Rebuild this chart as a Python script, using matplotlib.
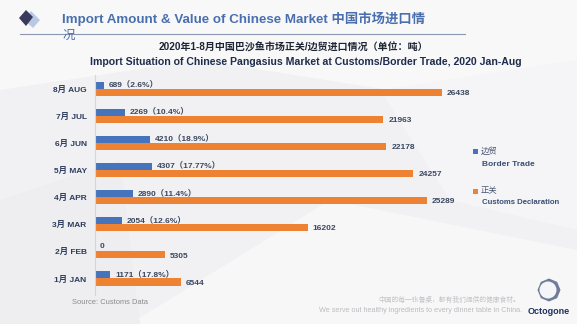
import matplotlib.pyplot as plt
from matplotlib.patches import Polygon, Rectangle, RegularPolygon, Circle

plt.rcParams['font.family'] = ['Liberation Sans', 'Noto Sans CJK SC', 'DejaVu Sans']

W, H = 577, 324

# monthly imports in tonnes, Aug first (top of chart)
months = ['8月 AUG', '7月 JUL', '6月 JUN', '5月 MAY', '4月 APR', '3月 MAR', '2月 FEB', '1月 JAN']
border_trade = [689, 2269, 4210, 4307, 2890, 2054, 0, 1171]
border_share = ['2.6%', '10.4%', '18.9%', '17.77%', '11.4%', '12.6%', None, '17.8%']
customs = [26438, 21963, 22178, 24257, 25289, 16202, 5305, 6544]

blue = '#4674BC'
orange = '#EE8233'
navy = '#2E3D5E'
label_col = '#3B4860'


def fx(x):
    return x / W


def fy(y):
    return 1 - y / H


fig = plt.figure(figsize=(W / 100, H / 100), dpi=100)
fig.patch.set_facecolor('#F1F1F3')

# soft background facets
bg = fig.add_axes([0, 0, 1, 1], zorder=-10)
bg.set_xlim(0, W)
bg.set_ylim(H, 0)
bg.axis('off')
bg.add_patch(Polygon([(0, 0), (577, 0), (577, 120), (200, 60), (0, 90)], closed=True,
                     facecolor='#F8F8F9', edgecolor='none'))
bg.add_patch(Polygon([(130, 324), (330, 200), (577, 250), (577, 324)], closed=True,
                     facecolor='#F7F7F8', edgecolor='none'))
bg.add_patch(Polygon([(0, 200), (120, 160), (140, 324), (0, 324)], closed=True,
                     facecolor='#EEEEF0', edgecolor='none'))
bg.add_patch(Polygon([(380, 90), (577, 60), (577, 230), (450, 200)], closed=True,
                     facecolor='#F5F5F7', edgecolor='none'))

# header icon
bg.add_patch(Polygon([(31, 11), (40, 20), (33, 28), (24, 20)], closed=True,
                     facecolor='#B9C8E4', edgecolor='none'))
bg.add_patch(Polygon([(26, 10), (33, 17), (26, 26), (19, 18)], closed=True,
                     facecolor='#3A3A5C', edgecolor='none'))
bg.plot([20, 465], [34, 34], color='#8A97B0', lw=0.8)

fig.text(fx(62), fy(19), 'Import Amount & Value of Chinese Market 中国市场进口情',
         fontsize=9.6, fontweight='bold', color='#4A6FAE', va='center', ha='left')
fig.text(fx(62), fy(36), '况', fontsize=9, color='#4A6FAE', va='center', ha='left')

fig.text(fx(293), fy(48), '2020年1-8月中国巴沙鱼市场正关/边贸进口情况（单位：吨）',
         fontsize=7.2, fontweight='bold', color='#1E2533', va='center', ha='center')
fig.text(fx(306), fy(62), 'Import Situation of Chinese Pangasius Market at Customs/Border Trade, 2020 Jan-Aug',
         fontsize=7.6, fontweight='bold', color='#1F2D4D', va='center', ha='center')

# bar chart
ax = fig.add_axes([fx(95), fy(295), (460 - 95) / W, 220 / H])
ax.set_facecolor('none')
n = len(months)
pos = [n - 1 - i for i in range(n)]
bh = 0.26
ax.barh([p + bh / 2 for p in pos], border_trade, height=bh, color=blue)
ax.barh([p - bh / 2 for p in pos], customs, height=bh, color=orange)
ax.set_xlim(0, 27800)
ax.set_ylim(-0.61, 7.52)

pad = 380
for p, b, s, c in zip(pos, border_trade, border_share, customs):
    txt = f'{b}（{s}）' if s else f'{b}'
    ax.text(b + pad, p + bh / 2 + 0.04, txt, fontsize=6, fontweight='bold',
            color=label_col, va='center', ha='left')
    ax.text(c + pad, p - bh / 2 - 0.04, f'{c}', fontsize=6, fontweight='bold',
            color=label_col, va='center', ha='left')

ax.set_yticks(pos)
ax.set_yticklabels(months, fontsize=6, fontweight='bold', color=navy)
ax.tick_params(axis='y', length=0, pad=6)
ax.set_xticks([])
for side in ['top', 'right', 'bottom']:
    ax.spines[side].set_visible(False)
ax.spines['left'].set_color('#D6D6DA')
ax.spines['left'].set_linewidth(0.8)

# legend
bg.add_patch(Rectangle((473, 149), 4.5, 4.5, facecolor=blue, edgecolor='none'))
fig.text(fx(481), fy(151.5), '边贸', fontsize=6, color='#4A5570', va='center')
fig.text(fx(482), fy(164), 'Border Trade', fontsize=6, fontweight='bold', color='#3A4E74', va='center')
bg.add_patch(Rectangle((473, 189), 4.5, 4.5, facecolor=orange, edgecolor='none'))
fig.text(fx(481), fy(191.5), '正关', fontsize=6, color='#4A5570', va='center')
fig.text(fx(482), fy(203), 'Customs Declaration', fontsize=5.6, fontweight='bold', color='#3A4E74', va='center')

# footer
fig.text(fx(72), fy(303), 'Source: Customs Data', fontsize=5.4, color='#8A8A8A', va='center')
fig.text(fx(520), fy(300), '中国的每一张餐桌，都有我们提供的健康食材。', fontsize=4.9,
         color='#C4C4C8', va='center', ha='right')
fig.text(fx(522), fy(311), 'We serve out healthy ingredients to every dinner table in China.',
         fontsize=5.2, color='#BDBDC2', va='center', ha='right')
bg.add_patch(RegularPolygon((549, 290), numVertices=8, radius=11.5, facecolor='#6F7C98',
                            edgecolor='none'))
bg.add_patch(Circle((548, 290), 8.5, facecolor='#F4F5F8', edgecolor='none'))
fig.text(fx(549), fy(311), 'Octogone', fontsize=6.5, fontweight='bold', color='#1F3160',
         va='center', ha='center')

fig.savefig('out.png', dpi=100, facecolor=fig.get_facecolor())
